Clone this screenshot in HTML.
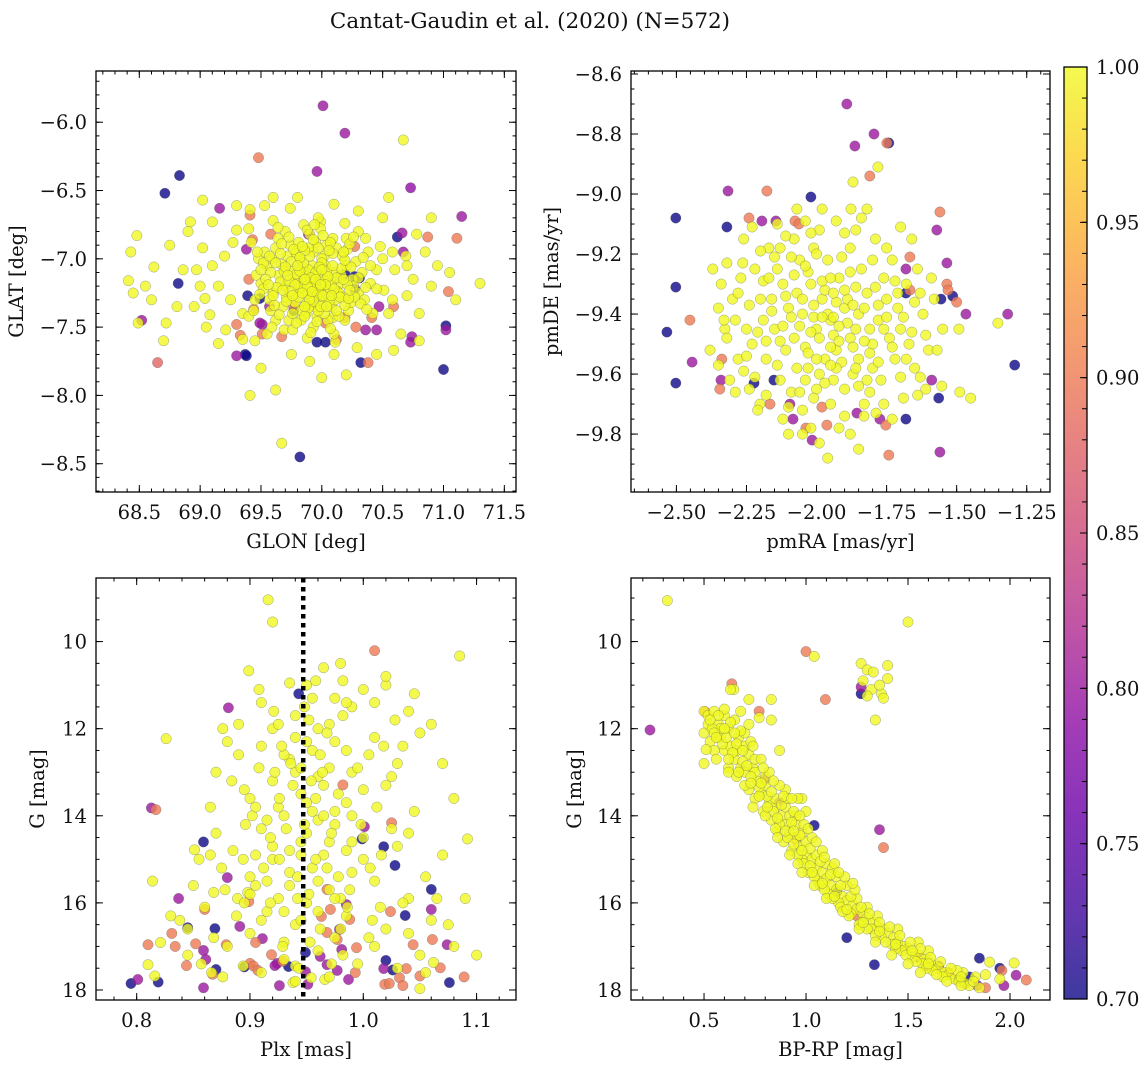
<!DOCTYPE html>
<html><head><meta charset="utf-8"><title>Cantat-Gaudin et al. (2020)</title>
<style>
html,body{margin:0;padding:0;background:#fff;}
svg{display:block;font-family:"DejaVu Serif","Liberation Serif",serif;}
</style></head>
<body>
<svg id="fig" width="1148" height="1067" viewBox="0 0 1148 1067" xmlns="http://www.w3.org/2000/svg">
<text x="530" y="28" font-size="21.5" text-anchor="middle" fill="#111">Cantat-Gaudin et al. (2020) (N=572)</text>
</svg>
<script>
// ---------- DATA ----------
const colorTicks = [0.70,0.75,0.80,0.85,0.90,0.95,1.00];
const glonTicks = [68.5,69.0,69.5,70.0,70.5,71.0,71.5];
const glatTicks = [-6.0,-6.5,-7.0,-7.5,-8.0,-8.5];
const pmraTicks = [-2.50,-2.25,-2.00,-1.75,-1.50,-1.25];
const pmdeTicks = [-8.6,-8.8,-9.0,-9.2,-9.4,-9.6,-9.8];
const plxTicks = [0.8,0.9,1.0,1.1];
const gmagTicks = [10,12,14,16,18];
const bprpTicks = [0.5,1.0,1.5,2.0];
const plxMean = 0.947;

// [GLON, GLAT, prob]
const skyOutliers = [[70.01,-5.88,.8],[70.19,-6.08,.8],[70.67,-6.13,1],[69.48,-6.26,.9],[68.71,-6.52,.7],[68.83,-6.39,.7],[69.96,-6.36,.8],[70.73,-6.48,.79],[71.15,-6.69,.8],[69.16,-6.63,.8],[69.02,-6.57,1],[70.55,-6.55,1],[68.48,-6.83,1],[68.62,-7.06,1],[68.43,-6.95,1],[68.41,-7.16,1],[68.45,-7.25,1],[68.49,-7.47,1],[68.52,-7.45,.8],[68.65,-7.76,.88],[68.72,-7.47,1],[68.82,-7.18,.7],[68.81,-7.35,1],[68.86,-7.08,1],[69.02,-6.92,1],[68.97,-7.08,1],[69.04,-7.29,1],[69.08,-7.41,1],[69.21,-7.52,1],[69.30,-7.71,.8],[69.37,-7.70,.7],[69.41,-8.0,1],[69.62,-7.96,1],[69.67,-8.35,1],[69.82,-8.45,.7],[70.0,-7.87,1],[70.03,-7.61,.7],[70.32,-7.76,.7],[70.38,-7.76,.9],[70.59,-7.67,1],[70.74,-7.57,.8],[71.02,-7.49,.7],[71.02,-7.52,.8],[71.0,-7.81,.7],[71.04,-7.24,.9],[71.11,-6.85,.9],[71.30,-7.18,1],[70.87,-6.84,.9],[70.66,-6.81,.8],
[69.10,-6.73,1],[69.30,-6.79,1],[69.30,-6.61,1],[69.41,-6.64,1],[69.53,-6.61,1],[69.74,-6.63,1],[69.99,-6.73,1],[70.19,-6.74,1],[70.36,-6.85,1],[70.48,-6.91,1],[70.58,-6.95,1],[70.60,-7.08,1],[70.51,-7.23,1],[70.75,-7.15,1],[70.70,-7.27,1],[70.58,-7.30,1],[70.47,-7.35,.8],[70.41,-7.43,.9],[70.19,-7.45,1],[70.09,-7.43,1],[70.31,-7.14,.7],[70.19,-7.11,.7],[70.27,-7.22,.72],[69.39,-7.27,.7],[69.44,-7.37,.9],[69.30,-7.48,.9],[69.51,-7.48,.8],[69.69,-7.52,1],[69.35,-7.59,1],[70.11,-7.61,1],[70.29,-7.65,1],[70.45,-7.52,.8],[70.69,-6.98,1],[70.78,-6.82,1],
[69.41,-6.68,.9],[69.43,-6.86,.9],[69.38,-6.93,.8],[70.62,-6.84,.7],[70.67,-6.95,.8],[70.59,-7.35,.9],[70.73,-7.61,.8],[70.36,-7.52,.8],[70.28,-7.50,.9],[70.12,-7.59,.9],[69.96,-7.61,.7],[69.49,-7.29,.7],[69.49,-7.47,.8],[69.33,-7.56,.9],[69.51,-7.55,.9],[69.67,-7.57,.9],[69.38,-7.71,.7],[70.19,-7.43,.9],[70.03,-7.47,.9],[70.27,-7.13,.7],[69.77,-7.38,.7],[69.57,-7.35,.8],[69.77,-7.35,.9],[69.89,-6.82,.8],[70.27,-6.91,.9],[69.58,-6.82,.9],[69.40,-7.15,.9],
[68.92,-6.73,1],[69.2,-6.98,1],[69.15,-7.2,1],[69.25,-7.3,1],[68.95,-7.35,1],[69.1,-7.05,1],[69.27,-6.88,1],[68.6,-7.3,1],[68.75,-6.9,1],[69.05,-7.5,1],[69.15,-7.62,1],[69.5,-7.8,1],[69.75,-7.7,1],[69.9,-7.75,1],[70.2,-7.85,1],[70.45,-7.7,1],[70.55,-7.4,1],[70.8,-7.4,1],[70.9,-7.2,1],[70.95,-7.05,1],[70.85,-6.95,1],[71.05,-7.1,1],[70.7,-7.05,1],[70.5,-6.7,1],[70.3,-6.65,1],[70.1,-6.6,1],[69.8,-6.55,1],[69.6,-6.55,1],[69.4,-6.78,1],[70.9,-6.7,1],[71.1,-7.3,1],[68.55,-7.2,1],[68.7,-7.6,1],[69.35,-7.4,1],[69.45,-7.6,1],[70.1,-7.7,1],[70.65,-7.55,1],[70.8,-7.6,1],[69.0,-7.2,1],[68.9,-6.8,1]];
const skyCore = [[69.90,-7.15],[69.85,-7.10],[69.95,-7.20],[70.00,-7.12],[69.80,-7.18],[69.92,-7.05],[70.05,-7.22],[69.75,-7.08],[69.88,-7.25],[70.10,-7.10],[69.70,-7.20],[69.98,-7.30],[69.82,-7.00],[70.15,-7.18],[69.65,-7.12],[69.93,-6.95],[70.08,-7.35],[69.78,-7.32],[70.20,-7.05],[69.60,-7.25],[69.87,-7.40],[70.02,-6.98],[69.72,-6.98],[70.18,-7.28],[69.55,-7.05],[70.25,-7.15],[69.95,-6.88],[69.68,-7.35],[70.12,-6.92],[69.83,-7.45],[69.50,-7.18],[70.28,-7.02],[69.62,-6.92],[70.22,-7.38],[69.90,-6.82],[69.73,-7.45],[70.05,-7.45],[69.58,-7.38],[70.30,-7.25],[69.48,-7.00],[69.97,-7.08],[69.86,-7.17],[70.03,-7.05],[69.77,-7.14],[69.91,-7.28],[70.07,-7.15],[69.84,-7.06],[69.99,-7.24],[69.81,-7.22],[70.13,-7.24],[69.67,-7.04],[69.94,-7.35],[70.17,-6.98],[69.74,-6.90],[70.09,-6.85],[69.57,-7.30],[69.89,-6.92],[70.24,-7.32],[69.64,-6.85],[70.33,-7.10],[69.46,-7.12],[69.99,-6.78],[69.76,-7.52],[70.14,-7.42],[69.53,-6.95],[70.35,-7.30],[69.85,-6.75],[69.70,-6.80],[70.20,-6.85],[69.93,-7.50],[69.62,-7.45],[70.38,-6.95],[69.45,-7.30],[70.00,-7.00],[69.87,-7.33],[70.11,-7.30],[69.79,-6.96],[70.04,-6.90],[69.71,-7.28],[69.96,-7.42],[70.26,-7.20],[69.52,-7.22],[70.16,-7.12],[69.83,-7.38],[69.66,-7.17],[69.94,-7.12],[70.06,-7.28],[69.81,-6.88],[70.21,-6.93],[69.59,-7.00],[70.40,-7.18],[69.42,-6.88],[70.30,-6.80],[69.97,-6.70],[69.60,-6.72],[70.45,-7.08],[69.40,-7.42],[70.42,-7.40],[69.88,-7.58],[70.10,-7.55],[69.55,-7.55],[70.50,-7.00]];
const skyCoreDense = [[69.93,-7.17],[69.87,-7.13],[69.97,-7.23],[70.02,-7.16],[69.83,-7.21],[69.89,-7.08],[70.04,-7.09],[69.79,-7.11],[69.91,-7.21],[70.08,-7.19],[69.73,-7.16],[69.96,-7.27],[69.85,-7.03],[70.12,-7.14],[69.69,-7.09],[69.90,-6.98],[70.06,-7.31],[69.81,-7.28],[70.16,-7.07],[69.63,-7.21],[69.89,-7.36],[70.00,-7.03],[69.75,-7.02],[70.14,-7.25],[69.58,-7.10],[70.21,-7.19],[69.97,-6.92],[69.71,-7.31],[70.09,-6.96],[69.86,-7.42],[69.54,-7.15],[70.24,-7.06],[69.66,-6.96],[70.19,-7.34],[69.93,-6.86],[69.76,-7.40],[70.02,-7.40],[69.61,-7.34],[70.27,-7.28],[69.52,-7.03],[69.95,-7.10],[69.88,-7.20],[70.05,-7.13],[69.78,-7.19],[69.93,-7.31],[70.10,-7.22],[69.82,-7.09],[70.01,-7.27],[69.84,-7.25],[70.15,-7.28],[69.70,-7.06],[69.97,-7.38],[70.19,-7.01],[69.77,-6.93],[70.07,-6.88],[69.60,-7.27],[69.86,-6.94],[70.22,-7.29],[69.67,-6.89],[70.30,-7.14],[69.50,-7.08],[70.01,-6.83],[69.79,-7.47],[70.12,-7.38],[69.57,-6.98],[70.32,-7.33],[69.88,-6.79],[69.73,-6.84],[70.23,-6.89],[69.96,-7.46],[69.65,-7.41],[70.34,-6.99],[69.49,-7.26],[69.98,-7.06],[69.90,-7.30],[70.08,-7.27],[69.82,-6.99],[70.06,-6.94],[69.74,-7.24],[69.99,-7.35],[70.23,-7.23],[69.56,-7.19],[70.18,-7.15],[69.86,-7.35],[69.68,-7.23],[69.91,-7.14],[70.03,-7.19],[69.84,-6.91],[70.18,-6.95],[69.62,-7.03],[70.36,-7.21],[69.47,-6.95],[70.26,-6.84],[69.94,-6.75],[69.64,-6.77],[70.40,-7.05],[69.44,-7.38],[70.37,-7.37],[69.91,-7.54],[70.07,-7.51],[69.59,-7.50],[70.45,-7.22],[69.95,-7.15],[69.99,-7.19],[69.92,-7.24],[69.86,-7.15],[70.00,-7.08],[69.80,-7.05],[70.09,-7.05],[69.76,-7.27],[70.04,-7.35],[69.72,-7.12]];

// [pmRA, pmDE, prob]
const pmOutliers = [[-1.892,-8.70,.8],[-1.742,-8.83,.7],[-1.863,-8.84,.8],[-1.795,-8.80,.8],[-1.749,-8.83,.9],[-1.781,-8.91,1],[-1.810,-8.94,.9],[-1.870,-8.96,1],[-2.316,-8.99,.8],[-2.177,-8.99,.9],[-2.020,-9.01,.7],[-1.877,-9.05,1],[-2.502,-9.08,.7],[-2.320,-9.11,.7],[-2.241,-9.08,.9],[-2.195,-9.09,.8],[-2.145,-9.09,.8],[-2.077,-9.09,.9],[-2.063,-9.10,.9],[-1.560,-9.06,.9],[-1.571,-9.12,.8],[-1.535,-9.23,.8],[-1.535,-9.30,.9],[-1.531,-9.32,.9],[-1.681,-9.25,.8],[-1.667,-9.21,.9],[-1.681,-9.33,.7],[-1.667,-9.32,.9],[-1.467,-9.40,.8],[-1.556,-9.35,.7],[-1.293,-9.57,.7],[-2.534,-9.46,.7],[-2.502,-9.31,.7],[-2.502,-9.63,.7],[-2.452,-9.42,.9],[-2.444,-9.56,.8],[-2.345,-9.65,.9],[-2.338,-9.55,.9],[-2.341,-9.62,.8],[-2.223,-9.63,.7],[-2.152,-9.62,.7],[-2.166,-9.70,.9],[-2.095,-9.70,.8],[-2.084,-9.75,.8],[-2.016,-9.82,.8],[-2.038,-9.78,.9],[-1.981,-9.71,.9],[-1.963,-9.77,.9],[-1.856,-9.73,.8],[-1.753,-9.77,.9],[-1.742,-9.87,.9],[-1.560,-9.86,.8],[-1.564,-9.68,.7],[-1.681,-9.75,.7],[-1.774,-9.75,.8],[-1.589,-9.62,.8],[-1.318,-9.40,.8],[-1.514,-9.34,.7],[-1.500,-9.36,.9],
[-1.353,-9.43,1],[-1.450,-9.68,1],[-1.489,-9.66,1],[-1.639,-9.67,1],[-1.553,-9.64,1],[-1.831,-9.74,1],[-1.788,-9.73,1],[-2.202,-9.70,1],[-2.327,-9.45,1],[-2.320,-9.23,1],[-2.263,-9.23,1],[-1.492,-9.45,1]];
const pmCore = [[-1.95,-9.42],[-1.90,-9.38],[-2.00,-9.45],[-1.98,-9.35],[-1.88,-9.48],[-2.05,-9.40],[-1.93,-9.52],[-2.02,-9.30],[-1.85,-9.40],[-1.97,-9.55],[-2.08,-9.48],[-1.82,-9.33],[-1.92,-9.28],[-2.10,-9.38],[-1.80,-9.50],[-2.03,-9.58],[-1.87,-9.60],[-2.12,-9.30],[-1.78,-9.42],[-1.96,-9.22],[-2.15,-9.45],[-1.75,-9.35],[-2.06,-9.22],[-1.84,-9.25],[-1.90,-9.65],[-2.18,-9.55],[-1.72,-9.55],[-2.00,-9.65],[-2.13,-9.62],[-1.77,-9.62],[-2.20,-9.35],[-1.70,-9.45],[-2.08,-9.15],[-1.88,-9.18],[-1.95,-9.70],[-2.25,-9.45],[-1.68,-9.30],[-2.22,-9.25],[-1.73,-9.22],[-2.05,-9.72],[-1.83,-9.70],[-2.28,-9.55],[-1.65,-9.58],[-2.17,-9.18],[-1.79,-9.15],[-1.99,-9.12],[-2.30,-9.35],[-1.62,-9.40],[-2.24,-9.65],[-1.69,-9.68],[-1.94,-9.47],[-2.01,-9.41],[-1.89,-9.43],[-1.97,-9.32],[-1.91,-9.56],[-2.04,-9.51],[-1.86,-9.31],[-2.07,-9.33],[-1.81,-9.45],[-1.99,-9.60],[-2.11,-9.52],[-1.76,-9.28],[-2.14,-9.25],[-1.93,-9.36],[-1.85,-9.55],[-2.03,-9.26],[-1.74,-9.48],[-2.19,-9.42],[-1.94,-9.62],[-2.09,-9.66],[-1.80,-9.58],[-2.16,-9.35],[-1.71,-9.38],[-2.01,-9.18],[-1.86,-9.12],[-2.23,-9.50],[-1.67,-9.50],[-2.27,-9.28],[-1.64,-9.25],[-2.32,-9.48],[-1.60,-9.52],[-2.21,-9.72],[-1.73,-9.75],[-1.92,-9.78],[-2.10,-9.80],[-1.85,-9.85],[-2.35,-9.38],[-1.58,-9.35],[-2.26,-9.15],[-1.66,-9.15],[-1.98,-9.05],[-2.14,-9.10],[-1.82,-9.05],[-2.31,-9.62],[-1.61,-9.65],[-2.38,-9.52],[-1.55,-9.45],[-1.96,-9.88],[-2.02,-9.78],[-2.07,-9.05],[-2.37,-9.25]];
const pmCoreDense = [[-1.96,-9.40],[-1.92,-9.44],[-2.01,-9.37],[-1.99,-9.48],[-1.89,-9.35],[-2.06,-9.44],[-1.94,-9.33],[-2.03,-9.53],[-1.86,-9.45],[-1.98,-9.29],[-2.09,-9.41],[-1.83,-9.38],[-1.93,-9.58],[-2.11,-9.34],[-1.81,-9.53],[-2.04,-9.24],[-1.88,-9.26],[-2.13,-9.49],[-1.79,-9.31],[-1.97,-9.63],[-2.16,-9.39],[-1.76,-9.45],[-2.07,-9.58],[-1.85,-9.64],[-1.91,-9.21],[-2.19,-9.29],[-1.73,-9.51],[-2.01,-9.68],[-2.14,-9.57],[-1.78,-9.56],[-2.21,-9.46],[-1.71,-9.33],[-2.09,-9.21],[-1.87,-9.51],[-1.95,-9.51],[-2.24,-9.37],[-1.69,-9.41],[-2.20,-9.19],[-1.75,-9.18],[-2.06,-9.66],[-1.82,-9.62],[-2.26,-9.59],[-1.66,-9.46],[-2.15,-9.21],[-1.80,-9.22],[-2.00,-9.20],[-2.29,-9.42],[-1.63,-9.33],[-2.22,-9.61],[-1.70,-9.61],[-1.94,-9.41],[-2.02,-9.46],[-1.90,-9.32],[-1.98,-9.41],[-1.92,-9.49],[-2.05,-9.35],[-1.87,-9.37],[-2.08,-9.27],[-1.83,-9.49],[-2.00,-9.55],[-2.12,-9.44],[-1.78,-9.37],[-2.13,-9.18],[-1.95,-9.28],[-1.86,-9.58],[-2.04,-9.62],[-1.75,-9.41],[-2.18,-9.49],[-1.95,-9.57],[-2.10,-9.71],[-1.81,-9.66],[-2.17,-9.28],[-1.72,-9.29],[-2.02,-9.13],[-1.90,-9.13],[-2.25,-9.54],[-1.68,-9.55],[-2.28,-9.33],[-1.65,-9.36],[-2.33,-9.42],[-1.61,-9.47],[-2.18,-9.67],[-1.76,-9.70],[-1.90,-9.74],[-2.12,-9.75],[-1.88,-9.80],[-2.34,-9.30],[-1.59,-9.28],[-2.23,-9.11],[-1.70,-9.11],[-1.93,-9.09],[-2.11,-9.14],[-1.84,-9.08],[-2.29,-9.66],[-1.63,-9.61],[-2.35,-9.57],[-1.57,-9.52],[-1.99,-9.83],[-2.05,-9.80],[-2.04,-9.09]];

// [Plx, G, prob]
const plxOutliers = [[0.916,9.04,1],[0.920,9.55,1],[1.085,10.33,1],[1.010,10.21,.9],[0.899,10.67,1],[0.881,11.52,.8],[0.943,11.2,.7],[0.813,13.82,.8],[0.817,13.86,.9],[1.092,14.53,1],[0.859,14.6,.7],[0.826,12.23,1],[0.851,14.78,1],[0.837,15.9,.8],[0.845,16.57,.7],[0.852,16.94,.9],[0.810,16.96,.9],[0.831,16.7,.9],[0.834,17.0,.9],[0.821,16.91,1],[0.859,17.09,.8],[0.867,17.64,.9],[0.861,17.3,.8],[0.869,16.59,.7],[0.879,16.96,.9],[0.880,15.42,.8],[0.868,15.76,1],[0.889,15.9,1],[0.898,15.76,1],[0.899,15.97,.9],[0.891,16.54,.8],[0.905,16.91,.9],[0.911,16.82,.8],[0.919,17.19,.9],[0.924,17.39,.8],[0.934,17.46,.7],[0.949,17.14,.7],[0.949,17.58,.8],[0.962,17.23,.8],[0.977,17.55,.8],[0.981,17.07,.8],[0.994,17.03,.9],[0.977,16.84,.9],[0.979,16.61,.8],[0.963,16.31,.9],[0.971,16.15,.9],[0.968,15.69,.9],[0.999,14.53,.7],[1.001,14.25,.8],[1.018,14.71,.7],[1.028,15.14,.7],[1.024,16.2,.9],[1.037,16.29,.7],[1.044,16.96,.9],[1.061,16.84,.9],[1.074,16.96,.8],[1.060,15.69,.7],[1.060,16.15,.8],[1.025,14.16,.9],[0.982,13.29,.9],[0.985,16.04,.8],[0.988,16.38,.9],[0.968,16.68,.9],[0.860,16.15,.9],[0.900,17.39,.9],
[0.795,17.85,.7],[0.801,17.76,.8],[0.816,17.68,1],[0.819,17.82,.7],[0.81,17.42,1],[0.844,17.44,.9],[0.859,17.95,.8],[0.87,17.53,.7],[0.866,17.6,1],[0.876,17.7,1],[0.894,17.45,1],[0.895,17.47,.7],[0.903,17.45,.9],[0.907,17.55,.9],[0.922,17.44,.8],[0.926,17.9,.8],[0.929,17.34,.9],[0.938,17.83,1],[0.94,17.45,1],[0.951,17.87,.8],[0.954,17.72,1],[0.966,17.76,1],[0.968,17.42,.8],[0.987,17.76,.8],[0.993,17.6,.9],[1.018,17.51,.8],[1.019,17.87,.9],[1.023,17.85,.9],[1.02,17.32,.7],[1.026,17.54,.7],[1.032,17.72,.9],[1.035,17.9,.9],[1.038,17.51,.9],[1.05,17.97,1],[1.05,17.68,.9],[1.062,17.37,1],[1.068,17.49,.9],[1.076,17.83,.7],[1.089,17.7,.9],[1.1,17.2,1]];
const plxMembers = [[0.965,10.6],[0.982,10.9],[1.0,11.1],[0.955,11.3],[0.99,11.5],[1.02,11.0],[0.94,11.7],[0.97,11.9],[1.04,11.6],[0.92,12.0],[1.01,12.2],[0.95,12.3],[0.985,12.5],[0.91,12.4],[1.05,12.1],[0.935,12.7],[0.97,12.9],[0.89,12.6],[1.03,12.8],[0.96,13.1],[0.92,13.2],[1.0,13.4],[0.945,13.5],[0.985,13.7],[0.9,13.6],[1.02,13.3],[0.87,13.0],[0.955,13.9],[0.93,14.0],[0.975,14.2],[0.91,14.3],[1.0,14.5],[0.945,14.6],[0.885,14.8],[0.965,14.9],[1.03,14.7],[0.92,15.0],[0.955,15.2],[0.99,15.3],[0.9,15.4],[0.935,15.6],[0.97,15.7],[1.01,15.5],[0.875,15.2],[1.04,15.9],[0.95,16.0],[0.915,16.2],[0.985,16.3],[0.86,16.1],[1.06,16.4],[0.94,16.5],[0.9,16.7],[0.975,16.8],[1.02,16.6],[0.88,17.0],[0.96,17.1],[1.05,17.2],[0.93,17.3],[0.995,17.4],[0.845,17.2],[1.08,17.0],[0.91,17.6],[0.97,17.7],[1.03,17.5],[0.95,11.0],[0.93,12.6],[0.96,12.0],[0.925,13.8],[0.95,14.4],[0.96,15.5],[0.945,16.4],[0.93,16.9],[0.91,11.4],[1.06,11.9],[1.07,12.8],[1.08,13.6],[1.07,14.9],[1.09,15.9],[0.88,12.3],[0.865,13.8],[0.855,15.0],[0.845,16.6],[0.814,15.5],[0.83,16.3],[0.985,11.4],[1.005,12.6],[0.94,13.0],[0.99,14.0],[0.935,15.3],[1.015,16.1],[0.965,13.3],[0.955,12.5],[1.025,14.3],[0.905,14.9],[0.98,15.9],[0.925,11.9],[1.035,12.4],[0.895,13.4],[1.045,13.9],[0.87,14.4],[1.055,15.4],[0.895,16.0],[1.01,17.0],[0.94,17.8],[0.98,16.6],[0.95,13.7],[0.97,14.6],[0.92,14.7],[0.99,13.0],[0.96,16.2],[0.9,15.8],[1.0,15.0],[0.94,12.2],[0.975,11.3],[1.045,11.2],[0.935,10.95],[1.02,10.8],[0.98,10.5],[0.915,14.1],[0.985,14.8],[0.925,15.9],[1.005,16.8],[0.945,12.9],[0.96,14.1],[0.91,16.4],[0.975,12.3]];
const plxMembersDense = [[0.952,11.8],[0.962,12.6],[0.938,13.3],[0.958,13.6],[0.948,14.2],[0.935,14.8],[0.958,15.0],[0.942,15.4],[0.952,15.8],[0.930,16.2],[0.962,16.6],[0.928,12.4],[0.968,12.1],[0.922,13.0],[0.978,13.5],[0.918,14.5],[0.972,14.4],[0.912,15.2],[0.978,15.4],[0.905,15.6],[0.988,15.7],[0.921,11.6],[0.982,11.7],[0.908,12.9],[0.995,12.9],[0.902,14.0],[0.998,14.2],[0.894,15.0],[1.006,15.2],[0.888,16.3],[1.008,16.4],[0.929,17.0],[0.982,17.2],[0.953,16.9],[0.943,17.5],[0.972,17.4],[0.896,14.2],[1.012,13.8],[0.884,13.2],[1.018,12.4],[0.876,12.0],[1.028,11.8],[0.958,10.9],[0.948,11.5],[0.932,14.3],[0.965,14.0],[0.942,15.9],[0.968,15.2],[0.918,16.0],[0.986,16.1],[0.926,15.0],[0.964,13.0],[0.936,12.8],[1.016,14.9],[0.878,15.7],[1.035,16.0],[0.868,16.8],[1.04,16.7],[0.857,17.4],[1.055,17.6],[0.908,11.1],[1.01,11.4],[0.89,11.9],[1.025,13.1],[0.865,14.9],[1.04,14.4],[0.85,15.6],[1.065,15.9],[0.838,16.4],[1.075,16.5],[0.954,13.2],[0.926,13.6],[0.975,13.9],[0.945,14.9],[0.975,15.9],[0.915,15.5],[0.99,14.6],[0.905,13.8]];

// [BP-RP, G, prob]
const cmdOutliers = [[0.235,12.03,.8],[1.0,10.23,.9],[1.095,11.33,.9],[1.27,11.04,.8],[1.27,11.2,.7],[0.636,10.97,.9],[0.77,11.6,.9],[0.505,11.61,.9],[0.8,13.16,.8],[1.04,14.22,.7],[1.36,14.32,.8],[1.38,14.73,.9],[1.2,16.8,.7],[1.335,17.42,.7],[1.95,17.5,.7],[1.96,17.55,.9],[2.03,17.66,.8],[2.08,17.77,.9],[1.97,17.9,.8],[1.85,17.27,.7],[1.84,17.9,.8],[1.75,17.75,.7],[1.7,17.6,.9],[1.6,17.45,.9],[1.45,17.0,.9],[1.55,17.25,.8],[1.8,17.7,.7],[1.88,17.95,.9],[0.95,14.55,.9],[0.87,13.7,.8],[1.15,15.75,.7],[1.25,16.3,.9],[1.65,17.45,.8],[1.78,17.85,.7],
[1.27,10.5,1],[1.3,10.65,1],[1.33,10.7,1],[1.28,10.9,1],[1.32,11.1,1],[1.37,11.2,1],[1.3,11.25,1],[1.38,11.3,1],[1.4,10.55,1],[1.4,10.85,1],[1.36,11.0,1],[1.34,11.8,1],[1.5,9.55,1],[1.04,10.34,1],[0.32,9.06,1],[0.646,11.1,1]];
const cmdMembers = [[0.50,11.6],[0.52,11.7],[0.55,11.6],[0.6,11.7],[0.57,11.9],[0.5,12.1],[0.53,12.3],[0.58,12.2],[0.62,12.0],[0.65,11.8],[0.6,12.5],[0.63,12.4],[0.67,12.2],[0.7,12.1],[0.55,12.5],[0.65,12.7],[0.68,12.9],[0.72,12.6],[0.62,12.9],[0.7,13.0],[0.74,12.9],[0.76,13.2],[0.72,13.4],[0.78,13.5],[0.8,13.3],[0.75,13.6],[0.82,13.7],[0.79,13.9],[0.85,13.8],[0.88,14.0],[0.83,14.1],[0.9,14.2],[0.86,14.35],[0.92,14.4],[0.95,14.5],[0.89,14.6],[0.97,14.7],[0.93,14.8],[1.0,14.9],[0.98,15.0],[1.03,15.0],[1.05,15.2],[1.01,15.3],[1.08,15.3],[1.1,15.45],[1.06,15.5],[1.12,15.6],[1.15,15.7],[1.11,15.8],[1.18,15.85],[1.2,15.95],[1.16,16.0],[1.23,16.05],[1.25,16.15],[1.22,16.25],[1.28,16.25],[1.3,16.35],[1.27,16.45],[1.33,16.45],[1.35,16.55],[1.32,16.6],[1.38,16.6],[1.4,16.7],[1.37,16.8],[1.43,16.8],[1.45,16.9],[1.42,16.95],[1.48,17.0],[1.5,17.05],[1.47,17.1],[1.53,17.15],[1.55,17.2],[1.52,17.25],[1.58,17.3],[1.6,17.35],[1.57,17.4],[1.63,17.45],[1.65,17.5],[1.62,17.55],[1.68,17.6],[1.7,17.65],[1.67,17.7],[1.73,17.75],[1.75,17.8],[1.78,17.85],[1.8,17.9],[1.83,17.7],[1.85,17.95],[1.77,17.6],[1.6,17.1],[1.55,16.9],[1.45,16.6],[1.35,16.3],[1.25,15.9],[1.15,15.4],[1.05,14.9],[0.95,14.2],[0.85,13.6],[0.75,13.0],[0.66,12.5],[0.58,12.0],[0.52,11.9],[0.54,12.0],[0.59,12.35],[0.64,12.55],[0.69,12.75],[0.73,13.1],[0.77,13.35],[0.81,13.55],[0.84,13.9],[0.87,14.2],[0.91,14.5],[0.94,14.65],[0.96,14.9],[0.99,15.1],[1.02,15.15],[1.04,15.4],[1.07,15.6],[1.09,15.7],[1.13,15.9],[1.17,16.1],[1.21,16.3],[1.26,16.5],[1.3,16.6],[1.34,16.75],[1.39,16.9],[1.44,17.05],[1.49,17.2],[1.54,17.35],[1.59,17.5],[1.64,17.65],[1.69,17.8],[0.9,13.8],[0.92,14.0],[0.98,14.4],[1.0,14.6],[1.1,15.1],[1.2,15.6],[1.3,16.1],[0.8,13.1],[0.85,14.3],[0.96,15.1],[1.13,15.2],[0.95,14.0],[1.0,13.9],[0.98,13.6],[0.7,12.4],[0.75,12.7],[0.68,11.6],[0.72,11.9],[0.83,11.8],[0.77,11.75],[0.6,11.55],[0.63,11.1],[0.72,11.33],[0.83,11.33],[0.51,12.48],[0.87,12.5],[0.9,13.4],[0.96,13.6],[0.5,12.8],[0.56,12.7],[0.62,13.0],[0.66,13.1],[0.7,13.3],[0.74,13.8],[0.8,14.0],[0.86,14.5],[0.92,14.9],[0.98,15.3],[1.04,15.6],[1.1,15.9],[1.18,16.2],[1.26,16.6],[1.34,16.9],[1.42,17.2],[1.5,17.4],[1.56,17.6],[1.74,17.55],[1.82,17.8],[1.9,17.36],[2.02,17.38],[1.76,17.9],[1.88,17.65],[1.95,17.75]];
const cmdMembersDense = [[0.55,12.1],[0.61,12.2],[0.66,12.35],[0.71,12.85],[0.78,13.25],[0.83,13.45],[0.88,13.75],[0.93,14.15],[0.97,14.45],[1.02,14.75],[1.07,15.05],[1.12,15.35],[1.17,15.6],[1.22,15.85],[1.27,16.1],[1.31,16.25],[1.36,16.45],[1.41,16.55],[1.46,16.75],[1.51,16.9],[1.56,17.05],[1.61,17.25],[1.66,17.35],[1.71,17.5],[1.76,17.7],[0.57,11.7],[0.63,11.85],[0.68,12.05],[0.73,12.3],[0.78,12.7],[0.82,13.0],[0.87,13.3],[0.91,13.6],[0.94,13.9],[0.99,14.2],[1.03,14.5],[1.08,14.8],[1.14,15.1],[1.19,15.4],[1.24,15.7],[0.62,12.7],[0.67,13.0],[0.73,13.25],[0.77,13.55],[0.81,13.8],[0.86,14.05],[0.9,14.35],[0.94,14.35],[0.98,14.8],[1.03,15.3],[1.08,15.55],[1.14,15.85],[1.2,16.15],[1.28,16.45],[1.36,16.65],[1.44,16.95],[1.52,17.1],[1.6,17.4],[0.53,11.8],[0.56,12.2],[0.6,12.0],[0.65,12.1],[0.69,12.5],[0.74,12.4],[0.79,12.9],[0.84,13.2],[0.89,13.55],[0.93,13.6],[0.97,14.0],[1.01,14.3],[1.05,14.6],[1.09,14.95],[1.16,15.3],[1.23,15.55]];

// ---------- RENDER ----------
const NS = "http://www.w3.org/2000/svg";
const svg = document.getElementById('fig');
const plasma = ["#0d0887","#41049d","#6a00a8","#8f0da4","#b12a90","#cc4778","#e16462","#f2844b","#fca636","#fcce25","#f0f921"];
function hex(h){return [parseInt(h.substr(1,2),16),parseInt(h.substr(3,2),16),parseInt(h.substr(5,2),16)];}
function cmap(p){
  let f=(p-0.70)/0.30; f=Math.max(0,Math.min(1,f));
  const s=f*10, i=Math.min(9,Math.floor(s)), t=s-i;
  const a=hex(plasma[i]), b=hex(plasma[i+1]);
  return 'rgb('+a.map((v,k)=>Math.round(v+(b[k]-v)*t)).join(',')+')';
}
function el(tag, attrs, parent){
  const e=document.createElementNS(NS,tag);
  for(const k in attrs) e.setAttribute(k,attrs[k]);
  (parent||svg).appendChild(e); return e;
}
function fmt(v,d){return (v<0?'\u2212':'')+Math.abs(v).toFixed(d);}
function range(a,b,s){const r=[];const n=Math.round((b-a)/s);for(let i=0;i<=n;i++)r.push(+(a+i*s).toFixed(6));return r;}
const FS=19.5;

function panel(cfg){
  const g=el('g',{});
  
  
  const {L,R,T,B}=cfg;
  const sx=v=>L+(v-cfg.x0)/(cfg.x1-cfg.x0)*(R-L);
  const sy=v=>T+(v-cfg.y0)/(cfg.y1-cfg.y0)*(B-T);
  const clipId='clip-'+cfg.name;
  const cp=el('clipPath',{id:clipId},g);
  el('rect',{x:L,y:T,width:R-L,height:B-T},cp);
  const pts=el('g',{'clip-path':'url(#'+clipId+')'},g);
  
  
  const all=[];
  cfg.outliers.forEach(d=>all.push([d[0],d[1],d[2]]));
  cfg.members.forEach(arr=>arr.forEach(d=>all.push([d[0],d[1],1])));
  all.sort((a,b)=>a[2]-b[2]);
  all.forEach(d=>{
    const c=el('circle',{cx:sx(d[0]).toFixed(1),cy:sy(d[1]).toFixed(1),r:5.2,fill:cmap(d[2]),'fill-opacity':0.8,stroke:'#555','stroke-opacity':0.55,'stroke-width':0.5},pts);
    
    
  });
  if(cfg.vline!==undefined){
    const ln=el('line',{x1:sx(cfg.vline),x2:sx(cfg.vline),y1:T,y2:B,stroke:'#000','stroke-width':4.5,'stroke-dasharray':'4.5,4.5'},g);
    
    
  }
  const tk=el('g',{stroke:'#000','stroke-width':1},g);
  const within=(v,a,b)=>v>=Math.min(a,b)-1e-9&&v<=Math.max(a,b)+1e-9;
  cfg.xminor.forEach(v=>{if(!within(v,cfg.x0,cfg.x1))return;const x=sx(v);
    el('line',{x1:x,x2:x,y1:B,y2:B-3.5},tk);el('line',{x1:x,x2:x,y1:T,y2:T+3.5},tk);});
  cfg.yminor.forEach(v=>{if(!within(v,cfg.y0,cfg.y1))return;const y=sy(v);
    el('line',{x1:L,x2:L+3.5,y1:y,y2:y},tk);el('line',{x1:R,x2:R-3.5,y1:y,y2:y},tk);});
  cfg.xticks.forEach(v=>{const x=sx(v);
    el('line',{x1:x,x2:x,y1:B,y2:B-7},tk);el('line',{x1:x,x2:x,y1:T,y2:T+7},tk);
    const t=el('text',{x:x,y:B+27,'font-size':FS,'text-anchor':'middle',fill:'#111'},g);
    
    
    t.textContent=fmt(v,cfg.xd);});
  cfg.yticks.forEach(v=>{const y=sy(v);
    el('line',{x1:L,x2:L+7,y1:y,y2:y},tk);el('line',{x1:R,x2:R-7,y1:y,y2:y},tk);
    const t=el('text',{x:L-9,y:y+7,'font-size':FS,'text-anchor':'end',fill:'#111'},g);
    
    
    t.textContent=fmt(v,cfg.yd);});
  const fr=el('rect',{x:L,y:T,width:R-L,height:B-T,fill:'none',stroke:'#000','stroke-width':1.3},g);
  
  
  const xl=el('text',{x:(L+R)/2,y:B+56,'font-size':FS,'text-anchor':'middle',fill:'#111'},g);
  
  
  xl.textContent=cfg.xlabel;
  const yx=cfg.ylx, yy=(T+B)/2;
  const yl=el('text',{x:yx,y:yy,'font-size':FS,'text-anchor':'middle',fill:'#111',transform:'rotate(-90 '+yx+' '+yy+')'},g);
  
  
  yl.textContent=cfg.ylabel;
}

panel({name:'sky-panel',L:96,R:516,T:71,B:492,x0:68.144,x1:71.596,y0:-5.625,y1:-8.707,
  xticks:glonTicks,yticks:glatTicks,xd:1,yd:1,xminor:range(68.2,71.5,0.1),yminor:range(-8.7,-5.7,0.1),
  outliers:skyOutliers,members:[skyCore,skyCoreDense],xlabel:'GLON [deg]',ylabel:'GLAT [deg]',ylx:23});
panel({name:'proper-motion-panel',L:631,R:1050,T:71,B:492,x0:-2.662,x1:-1.167,y0:-8.59,y1:-9.993,
  xticks:pmraTicks,yticks:pmdeTicks,xd:2,yd:1,xminor:range(-2.65,-1.2,0.05),yminor:range(-9.95,-8.6,0.05),
  outliers:pmOutliers,members:[pmCore,pmCoreDense],xlabel:'pmRA [mas/yr]',ylabel:'pmDE [mas/yr]',ylx:558});
panel({name:'parallax-panel',L:96,R:516,T:578,B:1000,x0:0.7641,x1:1.1348,y0:8.54,y1:18.23,
  xticks:plxTicks,yticks:gmagTicks,xd:1,yd:0,xminor:range(0.78,1.12,0.02),yminor:range(8.5,18,0.5),
  outliers:plxOutliers,members:[plxMembers,plxMembersDense],vline:plxMean,xlabel:'Plx [mas]',ylabel:'G [mag]',ylx:44});
panel({name:'cmd-panel',L:631,R:1050,T:578,B:1000,x0:0.142,x1:2.196,y0:8.54,y1:18.23,
  xticks:bprpTicks,yticks:gmagTicks,xd:1,yd:0,xminor:range(0.2,2.1,0.1),yminor:range(8.5,18,0.5),
  outliers:cmdOutliers,members:[cmdMembers,cmdMembersDense],xlabel:'BP-RP [mag]',ylabel:'G [mag]',ylx:581});

// colorbar
(function(){
  const L=1064,R=1087,T=67,B=999;
  const cb=el('g',{});
  
  
  const defs=el('defs',{},cb);
  const lg=el('linearGradient',{id:'cbgrad',x1:0,y1:1,x2:0,y2:0},defs);
  for(let i=0;i<=20;i++){const f=i/20;el('stop',{offset:f,'stop-color':cmap(0.7+0.3*f),'stop-opacity':0.8},lg);}
  const r=el('rect',{x:L,y:T,width:R-L,height:B-T,fill:'url(#cbgrad)',stroke:'#000','stroke-width':1.3},cb);
  
  
  const sy=v=>B-(v-0.70)/0.30*(B-T);
  range(0.70,1.00,0.01).forEach(v=>{const y=sy(v);el('line',{x1:R,x2:R-5,y1:y,y2:y,stroke:'#000','stroke-width':1},cb);});
  colorTicks.forEach(v=>{const y=sy(v);
    el('line',{x1:R,x2:R-7,y1:y,y2:y,stroke:'#000','stroke-width':1},cb);
    const t=el('text',{x:R+9,y:y+7,'font-size':FS,fill:'#111'},cb);
    
    
    t.textContent=v.toFixed(2);});
})();
</script>
</body></html>
